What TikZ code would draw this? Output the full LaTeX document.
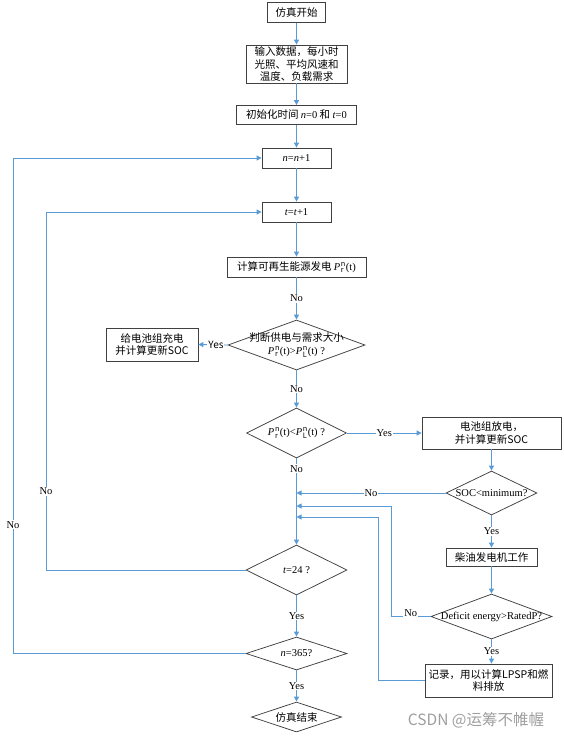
\documentclass[tikz,border=0pt]{standalone}
\usepackage{fontspec}
\setmainfont{Noto Sans CJK SC}
\newfontfamily\tnr{Liberation Serif}
\usetikzlibrary{shapes.geometric,arrows.meta}
\definecolor{flow}{HTML}{5B9BD5}
\definecolor{edge}{HTML}{404040}
\newcommand\PRn{{\tnr\textit{P}\kern0.6pt$_{\mathrm{r}}^{\mathrm{n}}$(t)}}
\newcommand\PLn{{\tnr\textit{P}\kern0.6pt$_{\mathrm{L}}^{\mathrm{n}}$(t)}}
\begin{document}
\begin{tikzpicture}[x=1pt,y=-1pt,
  every node/.style={font=\fontsize{10.5}{12.5}\selectfont},
  box/.style={draw=edge,line width=0.75pt,fill=white,rectangle,inner sep=0pt,align=center},
  dia/.style={draw=edge,line width=0.75pt,fill=white,diamond,inner sep=0pt},
  txt/.style={inner sep=0pt,align=center},
  arr/.style={draw=flow,line width=0.9pt,-{Triangle[width=5pt,length=5pt]}},
  lbl/.style={fill=white,inner sep=1pt,font=\tnr\fontsize{10.5}{12}\selectfont}
]
\useasboundingbox (0,0) rectangle (564,739);

% main column
\node[box,minimum width=58pt,minimum height=20pt] (start) at (296.5,12.5) {仿真开始};
\node[box,minimum width=101pt,minimum height=38pt] (input) at (296.5,64) {输入数据，每小时\\光照、平均风速和\\温度、负载需求};
\node[box,minimum width=120pt,minimum height=19pt] (init) at (296.5,115) {初始化时间 {\tnr\textit{n}=0} 和 {\tnr\textit{t}=0}};
\node[box,minimum width=69pt,minimum height=20pt] (nn) at (296.5,158) {\tnr\textit{n}=\textit{n}+1};
\node[box,minimum width=69pt,minimum height=20pt] (tt) at (296.5,212) {\tnr\textit{t}=\textit{t}+1};
\node[box,minimum width=139pt,minimum height=20pt] (calc) at (296.5,267) {计算可再生能源发电 \PRn};

\node[dia,minimum width=137pt,minimum height=50pt] (d1) at (296.5,345) {};
\node[txt] (d1t) at (d1) {判断供电与需求大小\\\PRn{\tnr >}\PLn{\tnr\ ?}};
\node[box,minimum width=92pt,minimum height=33pt] (charge) at (152,344.5) {给电池组充电\\并计算更新SOC};

\node[dia,minimum width=100pt,minimum height=50pt] (d2) at (296.5,433) {};
\node[txt] (d2t) at (d2) {\PRn{\tnr <}\PLn{\tnr\ ?}};

\node[box,minimum width=139pt,minimum height=32pt] (dis) at (491.5,433) {电池组放电，\\并计算更新SOC};
\node[dia,minimum width=91pt,minimum height=44pt] (soc) at (491.5,493) {};
\node[txt] (soct) at (soc) {\tnr SOC<minimum?};
\node[box,minimum width=91pt,minimum height=18pt] (diesel) at (491.5,557) {柴油发电机工作};
\node[dia,minimum width=121pt,minimum height=45pt] (def) at (491.5,616.5) {};
\node[txt] (deft) at (def) {\tnr Deficit energy>RatedP?};
\node[box,minimum width=127pt,minimum height=33pt] (rec) at (488.5,680.5) {记录，用以计算LPSP和燃\\料排放};

\node[dia,minimum width=101pt,minimum height=50pt] (d3) at (296.5,570) {};
\node[txt] (d3t) at (d3) {\tnr\textit{t}=24 ?};
\node[dia,minimum width=101pt,minimum height=33pt] (d4) at (296.5,653.5) {};
\node[txt] (d4t) at (d4) {\tnr\textit{n}=365?};
\node[dia,minimum width=90pt,minimum height=30pt] (end) at (296.5,717) {};
\node[txt] (endt) at (end) {仿真结束};

\node[inner sep=0pt,text=black!38,font=\fontsize{15.5}{16}\selectfont] (wm) at (476,720) {CSDN @运筹不帷幄};

% connectors
\draw[arr] (start) -- (input);
\draw[arr] (input) -- (init);
\draw[arr] (init) -- (nn);
\draw[arr] (nn) -- (tt);
\draw[arr] (tt) -- (calc);
\draw[arr] (calc) -- node[lbl] {No} (d1);
\draw[arr] (d1.west) -- node[lbl,font=\fontsize{10}{12}\selectfont,pos=0.4] {Yes} (charge.east);
\draw[arr] (d1.south) -- node[lbl] {No} (d2.north);
\draw[arr] (d2.east) -- node[lbl] {Yes} (dis.west);
\draw[arr] (d2.south) -- node[lbl,pos=0.12] {No} (d3.north);
\draw[arr] (dis) -- (soc);
\draw[arr] (soc.west) -- node[lbl] {No} (soc.west -| d3.north);
\draw[arr] (soc.south) -- node[lbl] {Yes} (diesel.north);
\draw[arr] (diesel) -- (def);
\coordinate (c1) at (391,616.5);
\coordinate (c1u) at (391,506);
\draw[arr] (def.west) -- node[lbl,yshift=3pt] {No} (c1) -- (c1u) -- (c1u -| d3.north);
\draw[arr] (def.south) -- node[lbl] {Yes} (def.south |- rec.north);
\coordinate (c2) at (378,680.5);
\coordinate (c2u) at (378,517);
\draw[arr] (rec.west) -- (c2) -- (c2u) -- (c2u -| d3.north);
\draw[arr] (d3.south) -- node[lbl] {Yes} (d4.north);
\draw[arr] (d4.south) -- node[lbl] {Yes} (end.north);
\coordinate (c3) at (46,570);
\coordinate (c3u) at (46,212);
\draw[arr] (d3.west) -- (c3) -- node[lbl,pos=0.22] {No} (c3u) -- (tt.west);
\coordinate (c4) at (13,653.5);
\coordinate (c4u) at (13,158);
\draw[arr] (d4.west) -- (c4) -- node[lbl,pos=0.26] {No} (c4u) -- (nn.west);
\end{tikzpicture}
\end{document}
